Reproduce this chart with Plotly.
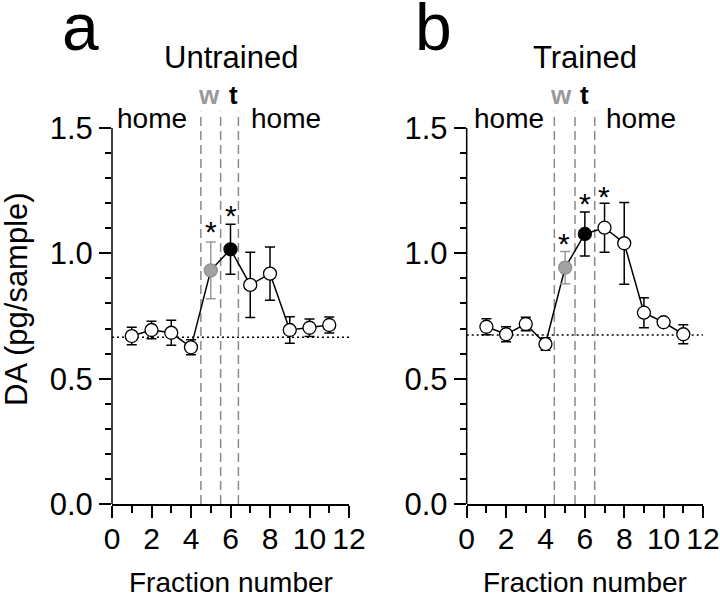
import plotly.graph_objects as go

# ---------------- data ----------------
fraction = [1, 2, 3, 4, 5, 6, 7, 8, 9, 10, 11]
untrained_mean = [0.670, 0.694, 0.683, 0.625, 0.932, 1.016, 0.874, 0.919, 0.694, 0.703, 0.714]
untrained_sem = [0.035, 0.035, 0.050, 0.030, 0.113, 0.100, 0.130, 0.106, 0.053, 0.035, 0.032]
trained_mean = [0.707, 0.677, 0.718, 0.638, 0.943, 1.077, 1.102, 1.040, 0.763, 0.725, 0.677]
trained_sem = [0.032, 0.030, 0.027, 0.025, 0.064, 0.088, 0.098, 0.163, 0.060, 0.010, 0.038]
walk_index = 4      # gray point ("w")
train_index = 5     # black point ("t")
untrained_baseline = 0.665
trained_baseline = 0.674
untrained_bounds = [4.5, 5.5, 6.4]
trained_bounds = [4.45, 5.5, 6.5]
untrained_star_x = [5.0, 6.0]
untrained_star_y = [1.113, 1.18]
trained_star_x = [4.95, 6.0, 6.98]
trained_star_y = [1.069, 1.226, 1.255]
untrained_w_t_x = [4.9, 6.13]
trained_w_t_x = [4.78, 6.0]
home_x_untrained = [2.05, 8.8]
home_x_trained = [2.15, 8.84]
x_ticks = [0, 2, 4, 6, 8, 10, 12]
y_ticks = [0.0, 0.5, 1.0, 1.5]
y_tick_text = ["0.0", "0.5", "1.0", "1.5"]
panel_titles = ["Untrained", "Trained"]
panel_letters = ["a", "b"]

FONT = "Liberation Sans, Arial, Helvetica, sans-serif"
GRAY = "#9a9a9a"
DASH_GRAY = "#8a8a8a"
W, H = 720, 601
Y_MAX = 1.58
HOME_LEVEL = 1.539
WT_LEVEL = 1.63

fig = go.Figure()

panels = [
    dict(mean=untrained_mean, sem=untrained_sem, base=untrained_baseline,
         bounds=untrained_bounds, sx=untrained_star_x, sy=untrained_star_y,
         wt=untrained_w_t_x, home=home_x_untrained, xa="x", ya="y"),
    dict(mean=trained_mean, sem=trained_sem, base=trained_baseline,
         bounds=trained_bounds, sx=trained_star_x, sy=trained_star_y,
         wt=trained_w_t_x, home=home_x_trained, xa="x2", ya="y2"),
]

annotations = []
shapes = []


def txt(**kw):
    d = dict(showarrow=False, xanchor="center", yanchor="middle")
    d.update(kw)
    return d


for i, p in enumerate(panels):
    xa, ya = p["xa"], p["ya"]
    xdom = xa + " domain"
    ydom = ya + " domain"
    # dashed vertical phase boundaries
    for b in p["bounds"]:
        shapes.append(dict(type="line", xref=xa, yref=ya, x0=b, x1=b, y0=0, y1=1.565,
                           line=dict(color=DASH_GRAY, width=1.5, dash="9px,5px"), layer="below"))
    # dotted baseline
    shapes.append(dict(type="line", xref=xa, yref=ya, x0=0, x1=12, y0=p["base"], y1=p["base"],
                       line=dict(color="black", width=1.5, dash="2px,3px"), layer="below"))
    # y axis line 0..1.5
    shapes.append(dict(type="line", xref=xdom, yref=ya, x0=0, x1=0, y0=0, y1=1.5,
                       line=dict(color="black", width=1.5)))

    # connecting line
    fig.add_trace(go.Scatter(x=fraction, y=p["mean"], mode="lines",
                             line=dict(color="black", width=1.5),
                             xaxis=xa, yaxis=ya, showlegend=False, hoverinfo="skip"))
    # black-errorbar points (all except walk)
    idx = [k for k in range(len(fraction)) if k != walk_index]
    fig.add_trace(go.Scatter(
        x=[fraction[k] for k in idx], y=[p["mean"][k] for k in idx], mode="markers",
        error_y=dict(type="data", array=[p["sem"][k] for k in idx], color="black",
                     thickness=1.5, width=5),
        marker=dict(size=13, color=["black" if k == train_index else "white" for k in idx],
                    line=dict(color="black", width=1.3)),
        xaxis=xa, yaxis=ya, showlegend=False, cliponaxis=False))
    # gray walk point
    fig.add_trace(go.Scatter(
        x=[fraction[walk_index]], y=[p["mean"][walk_index]], mode="markers",
        error_y=dict(type="data", array=[p["sem"][walk_index]], color=GRAY,
                     thickness=1.5, width=5),
        marker=dict(size=13, color="#a3a3a3", line=dict(color="#8f8f8f", width=1.3)),
        xaxis=xa, yaxis=ya, showlegend=False, cliponaxis=False))

    # stars
    for sx, sy in zip(p["sx"], p["sy"]):
        annotations.append(txt(x=sx, y=sy, xref=xa, yref=ya, text="*", yshift=-7,
                               font=dict(size=30, color="black", family=FONT)))
    # home labels
    for hx in p["home"]:
        annotations.append(txt(x=hx, y=HOME_LEVEL, xref=xa, yref=ya, text="home",
                               font=dict(size=28, color="black", family=FONT)))
    # w / t labels (above the axis range -> domain-relative y)
    annotations.append(txt(x=p["wt"][0], y=WT_LEVEL / Y_MAX, xref=xa, yref=ydom, text="<b>w</b>",
                           font=dict(size=26, color=GRAY, family=FONT)))
    annotations.append(txt(x=p["wt"][1], y=WT_LEVEL / Y_MAX, xref=xa, yref=ydom, text="<b>t</b>",
                           font=dict(size=26, color="black", family=FONT)))
    # title
    annotations.append(txt(x=0.5, y=1 - 57.5 / H, xref=xdom, yref="paper", text=panel_titles[i],
                           font=dict(size=31, color="black", family=FONT)))
    # x-axis title
    annotations.append(txt(x=0.5, y=1 - 582 / H, xref=xdom, yref="paper", text="Fraction number",
                           font=dict(size=28, color="black", family=FONT)))

# panel letters
annotations.append(txt(x=80 / W, y=1 - 27 / H, xref="paper", yref="paper", text=panel_letters[0],
                       font=dict(size=66, color="black", family=FONT)))
annotations.append(txt(x=433 / W, y=1 - 27 / H, xref="paper", yref="paper", text=panel_letters[1],
                       font=dict(size=66, color="black", family=FONT)))
# y-axis title
annotations.append(txt(x=16 / W, y=1 - 299 / H, xref="paper", yref="paper",
                       text="DA (pg/sample)", textangle=-90,
                       font=dict(size=31, color="black", family=FONT)))

xaxis_common = dict(range=[0, 12], tickmode="array", tickvals=x_ticks,
                    ticks="outside", ticklen=12, tickwidth=1.5, tickcolor="black",
                    showline=True, linecolor="black", linewidth=1.5, showgrid=False,
                    zeroline=False, tickfont=dict(size=30, color="black", family=FONT),
                    ticklabelstandoff=-5,
                    minor=dict(tickmode="linear", tick0=1, dtick=2, ticks="outside",
                               ticklen=7, tickwidth=1.5, tickcolor="black", showgrid=False),
                    automargin=False, fixedrange=True)
yaxis_common = dict(range=[0, Y_MAX], tickmode="array", tickvals=y_ticks, ticktext=y_tick_text,
                    ticks="outside", ticklen=12, tickwidth=1.5, tickcolor="black",
                    showline=False, showgrid=False, zeroline=False,
                    tickfont=dict(size=31, color="black", family=FONT),
                    minor=dict(tickmode="array", tickvals=[0.1, 0.2, 0.3, 0.4, 0.6, 0.7, 0.8, 0.9,
                                                           1.1, 1.2, 1.3, 1.4],
                               ticks="outside", ticklen=6, tickwidth=1.5, tickcolor="black",
                               showgrid=False),
                    domain=[1 - 504 / H, 1 - (504 - 250.7 * Y_MAX) / H],
                    automargin=False, fixedrange=True)

fig.update_layout(
    width=W, height=H,
    margin=dict(l=0, r=0, t=0, b=0, pad=0, autoexpand=False),
    paper_bgcolor="white", plot_bgcolor="white",
    showlegend=False,
    xaxis=dict(xaxis_common, domain=[112 / W, 349 / W], anchor="y"),
    yaxis=dict(yaxis_common, anchor="x"),
    xaxis2=dict(xaxis_common, domain=[466.7 / W, 703 / W], anchor="y2"),
    yaxis2=dict(yaxis_common, anchor="x2"),
    shapes=shapes,
    annotations=annotations,
    font=dict(family=FONT, color="black"),
)

fig.write_html("out.html", config={"displayModeBar": False},
               post_script="document.body.style.margin='0px';document.body.style.overflow='hidden';")
